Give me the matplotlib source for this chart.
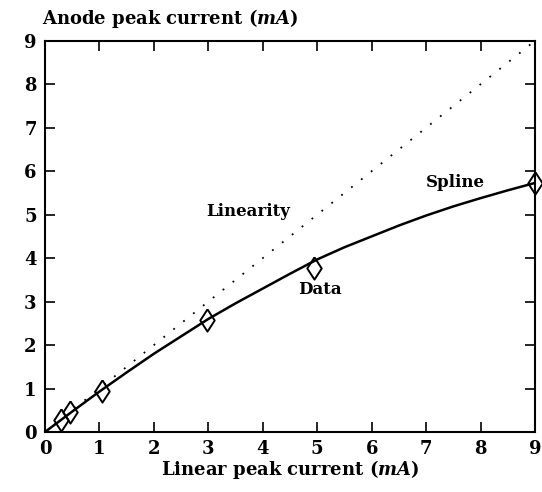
import matplotlib
matplotlib.use("Agg")
import matplotlib.pyplot as plt

# measured points
data_x = [0.29, 0.46, 1.05, 2.97, 4.94, 9.0]
data_y = [0.28, 0.46, 0.95, 2.58, 3.77, 5.73]

# spline curve
spline_x = [0, 0.5, 1, 1.5, 2, 2.5, 3, 3.5, 4, 4.5, 5, 5.5, 6, 6.5, 7, 7.5, 8, 8.5, 9]
spline_y = [0, 0.47, 0.93, 1.37, 1.8, 2.2, 2.6, 2.96, 3.3, 3.64, 3.97, 4.25, 4.5, 4.75, 4.98, 5.19, 5.38, 5.56, 5.73]

linear_x = [0, 9]
linear_y = [0, 9]

ticks = list(range(10))

plt.rcParams['font.family'] = ['DejaVu Serif']
plt.rcParams['font.weight'] = 'bold'
plt.rcParams['mathtext.fontset'] = 'custom'
plt.rcParams['mathtext.it'] = 'DejaVu Serif:italic:bold'
plt.rcParams['mathtext.rm'] = 'DejaVu Serif:bold'

# diamond a bit taller than wide
diamond = [(0, 1), (0.65, 0), (0, -1), (-0.65, 0), (0, 1)]

fig = plt.figure(figsize=(5.42, 4.92), dpi=100)
ax = fig.add_axes([0.083, 0.122, 0.904, 0.795])

ax.plot(linear_x, linear_y, color='black', linestyle=(0, (1, 6)), linewidth=1.3)
ax.plot(spline_x, spline_y, color='black', linewidth=1.8)
ax.plot(data_x, data_y, linestyle='none', marker=diamond, markersize=16,
        markerfacecolor='none', markeredgecolor='black', markeredgewidth=1.4,
        clip_on=False, zorder=5)

ax.text(3.73, 5.07, 'Linearity', ha='center', va='center', fontsize=12, fontweight='bold')
ax.text(5.06, 3.27, 'Data', ha='center', va='center', fontsize=12, fontweight='bold')
ax.text(7.54, 5.74, 'Spline', ha='center', va='center', fontsize=12, fontweight='bold')

ax.set_xlim(0, 9)
ax.set_ylim(0, 9)
ax.set_xticks(ticks)
ax.set_yticks(ticks)
ax.tick_params(direction='in', length=7, width=1.2, top=True, right=True,
               labelsize=13, pad=6)
for lab in ax.get_xticklabels() + ax.get_yticklabels():
    lab.set_fontweight('bold')
for s in ax.spines.values():
    s.set_linewidth(1.5)

ax.set_xlabel('Linear peak current ($mA$)', fontsize=13, fontweight='bold', labelpad=0)
fig.text(0.077, 0.963, 'Anode peak current ($mA$)', fontsize=13, fontweight='bold',
         ha='left', va='center')

fig.savefig('out.png', dpi=100)
